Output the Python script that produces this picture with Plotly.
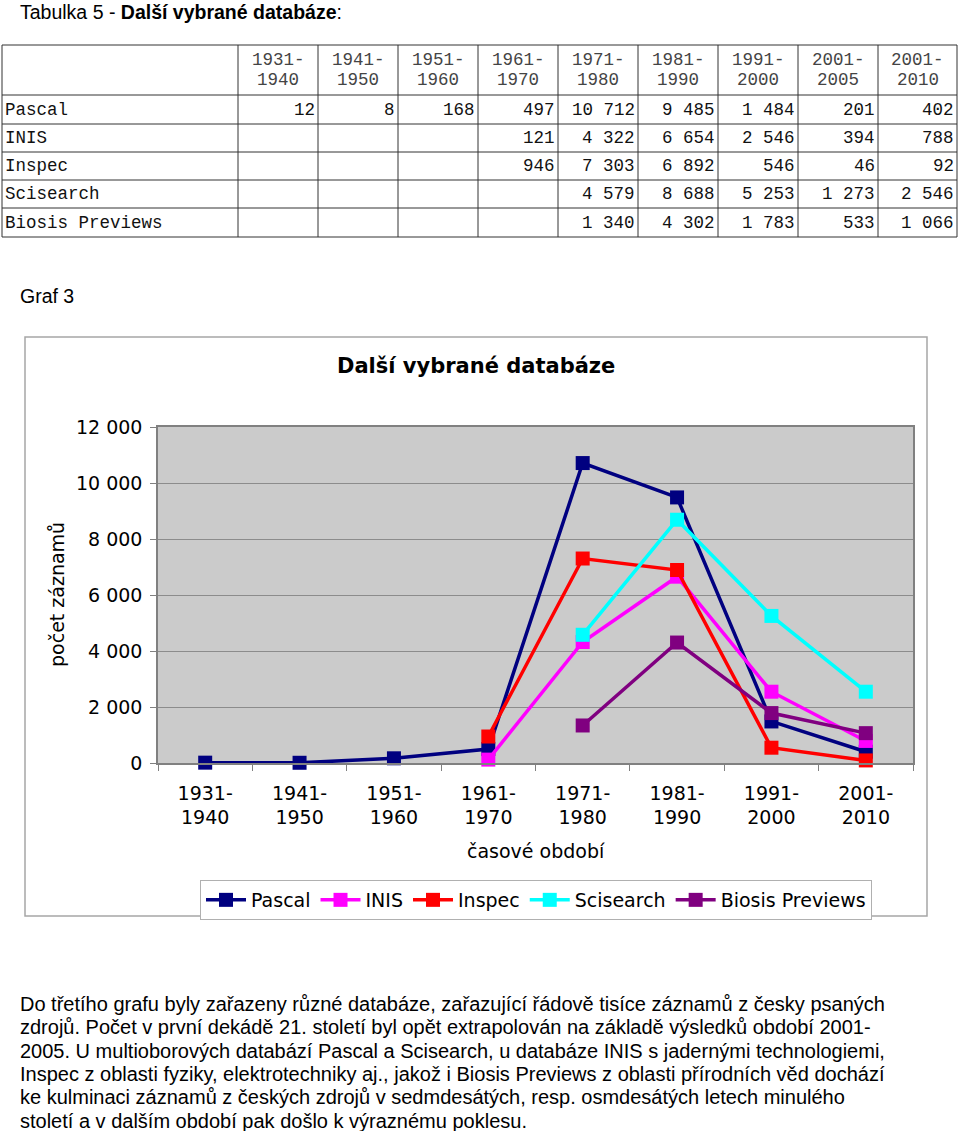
import plotly.graph_objects as go

# ---------------- data ----------------
table_periods = ["1931-1940", "1941-1950", "1951-1960", "1961-1970", "1971-1980",
                 "1981-1990", "1991-2000", "2001-2005", "2001-2010"]
series_names = ["Pascal", "INIS", "Inspec", "Scisearch", "Biosis Previews"]
pascal = [12, 8, 168, 497, 10712, 9485, 1484, 201, 402]
inis = [None, None, None, 121, 4322, 6654, 2546, 394, 788]
inspec = [None, None, None, 946, 7303, 6892, 546, 46, 92]
scisearch = [None, None, None, None, 4579, 8688, 5253, 1273, 2546]
biosis = [None, None, None, None, 1340, 4302, 1783, 533, 1066]
chart_excluded = "2001-2005"
y_ticks = [0, 2000, 4000, 6000, 8000, 10000, 12000]

series_values = [pascal, inis, inspec, scisearch, biosis]
series_colors = ["#000080", "#FF00FF", "#FF0000", "#00FFFF", "#800080"]

paragraph = [
    "Do třetího grafu byly zařazeny různé databáze, zařazující řádově tisíce záznamů z česky psaných",
    "zdrojů. Počet v první dekádě 21. století byl opět extrapolován na základě výsledků období 2001-",
    "2005. U multioborových databází Pascal a Scisearch, u databáze INIS s jadernými technologiemi,",
    "Inspec z oblasti fyziky, elektrotechniky aj., jakož i Biosis Previews z oblasti přírodních věd dochází",
    "ke kulminaci záznamů z českých zdrojů v sedmdesátých, resp. osmdesátých letech minulého",
    "století a v dalším období pak došlo k výraznému poklesu.",
]

W, H = 960, 1131


def fx(p):
    return p / W


def fy(p):
    return 1 - p / H


def fmt(v):
    return f"{v:,}".replace(",", " ")


chart_idx = [i for i, p in enumerate(table_periods) if p != chart_excluded]
chart_cats = [table_periods[i].replace("-", "-<br>") for i in chart_idx]

fig = go.Figure()
for name, vals, col in zip(series_names, series_values, series_colors):
    fig.add_trace(go.Scatter(
        x=chart_cats, y=[vals[i] for i in chart_idx], name=name,
        mode="lines+markers", cliponaxis=False,
        line=dict(color=col, width=3.5),
        marker=dict(symbol="square", size=14, color=col),
    ))

shapes = []
ann = []

# ---------- document title ----------
ann.append(dict(x=fx(18), y=fy(12), xanchor="left", yanchor="middle",
                text="Tabulka 5 - <b>Další vybrané databáze</b>:",
                font=dict(family="Liberation Sans", size=19.5, color="#000")))

# ---------- table ----------
col_x = [2, 238, 318, 398, 478, 558, 638, 718, 798, 878, 957]
row_y = [45, 95, 124, 152, 180, 208, 237]
for yy in row_y:
    shapes.append(dict(type="line", xref="paper", yref="paper",
                       x0=fx(col_x[0]), x1=fx(col_x[-1]), y0=fy(yy), y1=fy(yy),
                       line=dict(color="#333", width=1)))
for xx in col_x:
    shapes.append(dict(type="line", xref="paper", yref="paper",
                       x0=fx(xx), x1=fx(xx), y0=fy(row_y[0]), y1=fy(row_y[-1]),
                       line=dict(color="#333", width=1)))
mono = dict(family="Liberation Mono", size=17.5, color="#111")
for j, p in enumerate(table_periods):
    a, b = p.split("-")
    cx = (col_x[j + 1] + col_x[j + 2]) / 2
    ann.append(dict(x=fx(cx), y=fy(60), xanchor="center", yanchor="middle",
                    text=a + "-", font=dict(mono, color="#444")))
    ann.append(dict(x=fx(cx), y=fy(80), xanchor="center", yanchor="middle",
                    text=b, font=dict(mono, color="#444")))
for r, (name, vals) in enumerate(zip(series_names, series_values)):
    cy = (row_y[r + 1] + row_y[r + 2]) / 2
    ann.append(dict(x=fx(3), y=fy(cy + 0.5), xanchor="left", yanchor="middle",
                    text=name, font=mono))
    for j, v in enumerate(vals):
        if v is None:
            continue
        ann.append(dict(x=fx(col_x[j + 2] - 1), y=fy(cy + 0.5), xanchor="right",
                        yanchor="middle", text=fmt(v), font=mono))

# ---------- Graf 3 ----------
ann.append(dict(x=fx(18), y=fy(296), xanchor="left", yanchor="middle",
                text="Graf 3", font=dict(family="Liberation Sans", size=19.5, color="#000")))

# chart frame
shapes.append(dict(type="rect", xref="paper", yref="paper",
                   x0=fx(25), x1=fx(927), y0=fy(337), y1=fy(916),
                   line=dict(color="#A6A6A6", width=1.5), layer="below"))

vfont = "DejaVu Sans"
ann.append(dict(x=fx(476), y=fy(366), xanchor="center", yanchor="middle",
                text="<b>Další vybrané databáze</b>",
                font=dict(family=vfont, size=21, color="#000")))
ann.append(dict(x=fx(57), y=fy(595), xanchor="center", yanchor="middle",
                textangle=-90, text="počet záznamů",
                font=dict(family=vfont, size=19, color="#000")))
ann.append(dict(x=fx(536), y=fy(851), xanchor="center", yanchor="middle",
                text="časové období",
                font=dict(family=vfont, size=19, color="#000")))

# ---------- paragraph ----------
for k, line in enumerate(paragraph):
    ann.append(dict(x=fx(18), y=fy(1004 + k * 23.3), xanchor="left", yanchor="middle",
                    text=line, font=dict(family="Liberation Sans", size=20, color="#000")))

for a in ann:
    a.setdefault("xref", "paper")
    a.setdefault("yref", "paper")
    a.setdefault("showarrow", False)

fig.update_layout(
    width=W, height=H, margin=dict(l=0, r=0, t=0, b=0, autoexpand=False),
    paper_bgcolor="white", plot_bgcolor="#CBCBCB",
    separators=", ",
    shapes=shapes, annotations=ann,
    showlegend=True,
    legend=dict(orientation="h", x=fx(536), xanchor="center", y=fy(880), yanchor="top",
                bordercolor="#B0B0B0", borderwidth=1, bgcolor="white",
                font=dict(family=vfont, size=19, color="#000"),
                itemwidth=40, tracegroupgap=0),
    xaxis=dict(domain=[fx(158), fx(913)], type="category", range=[-0.5, 7.5],
               automargin=False,
               showgrid=False, tickson="boundaries", ticks="outside", ticklen=6,
               tickcolor="#808080", showline=True, linecolor="#808080", linewidth=1.5,
               mirror=True, ticklabelstandoff=12,
               tickfont=dict(family=vfont, size=19, color="#000"), zeroline=False),
    yaxis=dict(domain=[fy(763), fy(427)], range=[0, 12000], tickvals=y_ticks,
               automargin=False,
               tickformat=",d", showgrid=True, gridcolor="#8C8C8C", gridwidth=1,
               ticks="outside", ticklen=6, tickcolor="#808080",
               showline=True, linecolor="#808080", linewidth=1.5, mirror=True,
               ticklabelstandoff=4, zeroline=False,
               tickfont=dict(family=vfont, size=19, color="#000")),
)

fig.write_html("out.html", config={"displayModeBar": False},
               post_script="document.body.style.margin='0';document.body.style.overflow='hidden';")
